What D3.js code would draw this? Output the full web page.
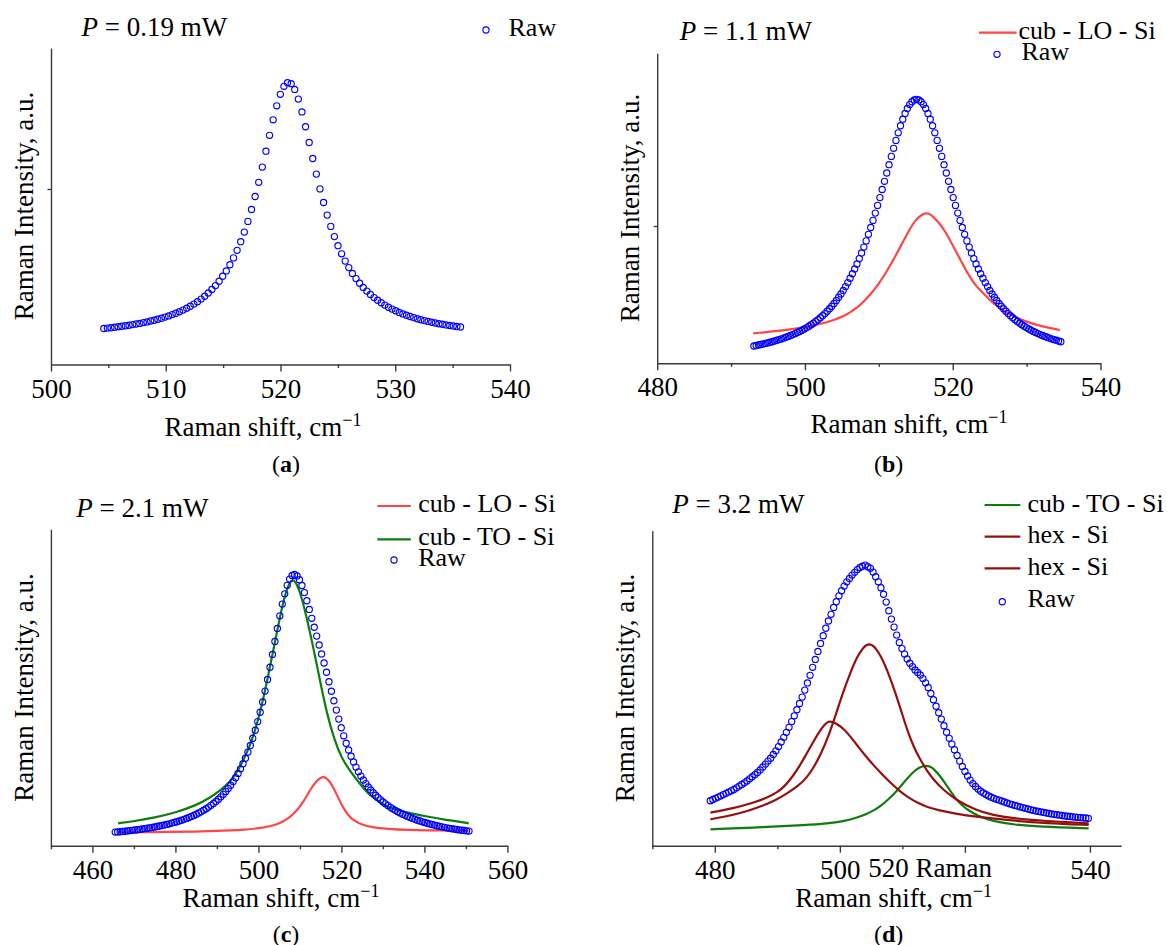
<!DOCTYPE html>
<html>
<head>
<meta charset="utf-8">
<script src="https://cdn.jsdelivr.net/npm/d3@7/dist/d3.min.js"></script>
<style>
  body { margin: 0; background: #fff; }
  text { font-family: "Liberation Serif", "Times New Roman", serif; fill: #000; }
</style>
</head>
<body>
<svg id="chart" width="1167" height="945"></svg>
<script>
// ---- data (intensities in arbitrary units) ----
var powers = ['0.19', '1.1', '2.1', '3.2'];
var tags = ['a', 'b', 'c', 'd'];

// raw spectra: first shift, sampling step, intensities
var rawA_start = 504.6, rawA_step = 0.314;
var rawA = [36.0, 36.4, 36.8, 37.3, 37.7, 38.2, 38.7, 39.3, 39.9, 40.5,
  41.1, 41.9, 42.6, 43.5, 44.3, 45.3, 46.3, 47.4, 48.6, 49.9,
  51.3, 52.8, 54.4, 56.3, 58.2, 60.4, 62.8, 65.4, 68.2, 71.5,
  75.0, 78.9, 83.3, 88.2, 93.6, 99.7, 106.6, 114.2, 122.8, 132.4,
  143.1, 155.0, 168.0, 182.2, 197.4, 213.3, 229.2, 244.7, 258.7, 270.2,
  278.2, 281.8, 280.8, 275.1, 265.4, 252.6, 237.8, 222.0, 206.0, 190.4,
  175.6, 162.0, 149.4, 138.1, 127.9, 118.8, 110.7, 103.4, 96.9, 91.1,
  85.9, 81.3, 77.1, 73.4, 70.0, 66.9, 64.2, 61.7, 59.4, 57.3,
  55.4, 53.7, 52.1, 50.6, 49.3, 48.0, 46.9, 45.8, 44.8, 43.9,
  43.1, 42.3, 41.5, 40.8, 40.2, 39.6, 39.0, 38.5, 38.0, 37.5];

var rawB_start = 493.09, rawB_step = 0.31;
var rawB = [17.3, 17.8, 18.3, 18.8, 19.3, 19.9, 20.4, 21.0, 21.6, 22.3,
  23.0, 23.7, 24.4, 25.2, 26.0, 26.9, 27.8, 28.7, 29.7, 30.8,
  31.9, 33.1, 34.3, 35.7, 37.1, 38.6, 40.1, 41.8, 43.6, 45.5,
  47.6, 49.7, 52.0, 54.5, 57.1, 59.9, 62.8, 66.0, 69.3, 72.9,
  76.7, 80.7, 85.0, 89.5, 94.3, 99.3, 104.7, 110.3, 116.2, 122.4,
  129.0, 135.8, 142.9, 150.2, 157.9, 165.7, 173.8, 182.0, 190.3, 198.6,
  206.9, 215.0, 222.9, 230.5, 237.6, 244.1, 249.9, 254.8, 258.7, 261.6,
  263.4, 264.0, 263.4, 261.6, 258.7, 254.8, 249.9, 244.1, 237.6, 230.5,
  222.9, 215.0, 206.9, 198.6, 190.3, 182.0, 173.8, 165.7, 157.9, 150.2,
  142.9, 135.8, 129.0, 122.4, 116.2, 110.3, 104.7, 99.3, 94.3, 89.5,
  85.0, 80.7, 76.7, 72.9, 69.3, 66.0, 62.8, 59.9, 57.1, 54.5,
  52.0, 49.7, 47.6, 45.5, 43.6, 41.8, 40.1, 38.6, 37.1, 35.7,
  34.3, 33.1, 31.9, 30.8, 29.7, 28.7, 27.8, 26.9, 26.0, 25.2,
  24.4, 23.7, 23.0, 22.3, 21.6];

var rawC_start = 465.5, rawC_step = 0.592;
var rawC = [13.6, 13.8, 14.0, 14.3, 14.5, 14.8, 15.1, 15.4, 15.7, 16.0,
  16.3, 16.7, 17.1, 17.5, 17.9, 18.3, 18.7, 19.2, 19.7, 20.2,
  20.8, 21.3, 21.9, 22.6, 23.3, 24.0, 24.7, 25.5, 26.4, 27.3,
  28.2, 29.3, 30.3, 31.5, 32.7, 34.1, 35.5, 37.0, 38.6, 40.4,
  42.3, 44.3, 46.5, 48.9, 51.4, 54.2, 57.2, 60.5, 64.1, 68.0,
  72.3, 76.9, 82.0, 87.5, 93.6, 100.3, 107.5, 115.5, 124.1, 133.5,
  143.7, 154.6, 166.3, 178.5, 191.3, 204.3, 217.3, 229.9, 241.6, 251.9,
  260.4, 266.6, 270.3, 271.3, 269.8, 266.0, 260.2, 253.1, 245.0, 236.3,
  227.4, 218.5, 209.6, 200.7, 191.8, 182.7, 173.5, 164.0, 154.5, 145.0,
  135.6, 126.6, 118.0, 109.9, 102.5, 95.7, 89.5, 83.7, 78.6, 73.9,
  69.6, 65.7, 62.1, 58.8, 55.8, 53.0, 50.5, 48.1, 45.9, 43.8,
  41.9, 40.1, 38.4, 36.9, 35.4, 34.0, 32.7, 31.5, 30.4, 29.3,
  28.3, 27.3, 26.4, 25.5, 24.7, 23.9, 23.2, 22.5, 21.8, 21.2,
  20.6, 20.0, 19.4, 18.9, 18.4, 17.9, 17.4, 17.0, 16.6, 16.2,
  15.8, 15.5, 15.2, 14.9, 14.6];

var rawD_start = 479.27, rawD_step = 0.42;
var rawD = [45.0, 46.2, 47.4, 48.6, 49.9, 51.1, 52.4, 53.6, 54.9, 56.2,
  57.9, 59.6, 61.2, 62.9, 64.8, 66.9, 69.0, 71.1, 73.2, 75.8,
  78.7, 81.6, 84.6, 87.5, 91.2, 94.9, 99.1, 103.7, 108.4, 113.4,
  118.4, 124.1, 129.9, 136.0, 142.3, 148.6, 155.6, 162.8, 170.4, 178.4,
  186.3, 194.3, 202.3, 210.0, 217.5, 224.7, 231.4, 238.2, 244.0, 249.9,
  255.0, 259.6, 263.9, 267.2, 270.6, 273.4, 276.1, 278.2, 279.5, 280.6,
  279.0, 277.4, 273.6, 269.0, 263.9, 258.0, 251.5, 243.6, 235.0, 226.6,
  218.6, 210.6, 203.2, 197.1, 191.6, 186.8, 182.5, 179.1, 175.8, 173.3,
  170.8, 167.1, 162.9, 158.2, 152.3, 146.0, 139.5, 133.0, 126.6, 120.0,
  113.5, 107.4, 101.6, 96.0, 90.3, 84.6, 79.3, 74.3, 69.8, 65.6,
  62.1, 59.2, 56.6, 54.5, 52.7, 51.2, 49.7, 48.5, 47.4, 46.4,
  45.6, 44.7, 43.8, 42.8, 41.9, 41.1, 40.3, 39.6, 38.8, 38.1,
  37.4, 36.7, 36.0, 35.4, 34.8, 34.3, 33.8, 33.3, 32.8, 32.3,
  31.8, 31.4, 31.0, 30.6, 30.2, 29.8, 29.5, 29.2, 28.9, 28.6,
  28.4, 28.1, 27.9, 27.7, 27.4];

// fitted components
var loB_x = [493, 498.1, 502.7, 504, 505.2, 506, 507.3, 508, 509, 510, 511, 512, 513, 514, 515, 516.2, 517, 518, 519, 520, 521, 522, 523, 524, 525, 526, 527, 528, 529.7, 532, 534.5];
var loB_y = [30, 33.3, 40.2, 43.5, 47, 50.5, 57, 62, 70, 79.5, 91, 104, 117.5, 132, 144, 151, 149.5, 142, 132, 118, 104, 90, 78.5, 71, 63.5, 57, 52, 48, 42, 37, 33.3];

var loC_x = [466.2, 475, 485, 492, 497, 500, 503, 505.5, 507.5, 509.5, 511, 512.5, 514, 515.6, 517.2, 518.7, 520.1, 521.5, 523, 525, 527.3, 531, 536, 543, 550.7];
var loC_y = [13.4, 13.6, 14, 15, 16, 17.4, 19.5, 23, 28, 36, 45, 56, 65, 70.5, 65, 53, 40, 31, 25, 21, 18.4, 16.8, 15.7, 15.2, 15];
var toC_x = [466.2, 470, 475, 480, 485, 488, 491, 493, 495, 498, 500, 502, 504, 506, 507, 508, 509, 510, 511.2, 513, 514.8, 516.5, 518.3, 520, 522, 525.5, 528, 531.7, 536, 540.7, 545, 550.7];
var toC_y = [22.4, 24.5, 28, 33, 40.5, 47, 56, 63, 74, 99, 126, 162, 204, 245, 258, 267, 264, 254, 236, 203, 166, 132, 106, 88, 75, 56, 46, 37.5, 33, 29, 26, 22.4];

var toD_x = [479.3, 488, 494.6, 498, 500.6, 502.5, 504.2, 505.5, 506.6, 507.8, 509, 510, 510.8, 511.7, 512.6, 513.7, 514.5, 515.05, 516, 516.9, 517.8, 518.7, 519.6, 520.5, 522, 523.5, 525.5, 527.7, 532, 539.8];
var toD_y = [16.4, 18.5, 20.7, 22.3, 24.5, 27.5, 31.5, 35.5, 40, 46.5, 54, 61.5, 67.5, 73.5, 78, 80.5, 79, 76.5, 70, 62, 53.5, 45.7, 40, 35.7, 30, 26.5, 23.5, 21.2, 19, 17.4];
var hex1D_x = [479.3, 483, 486, 488.6, 490, 491, 492.2, 493.4, 494.6, 495.8, 496.8, 497.6, 498.2, 498.8, 499.6, 500.5, 501.8, 503, 504.2, 505.4, 506.6, 508, 509.6, 511, 512.6, 514, 515.6, 518.5, 521.7, 527.7, 533, 539.8];
var hex1D_y = [33, 37.5, 42.5, 48.5, 53.5, 58.5, 67, 78, 91, 104.5, 115, 121.5, 124.5, 124, 121.5, 117.5, 108.5, 98.5, 89, 80.5, 72.4, 63.5, 54.5, 48, 42.4, 38.5, 35.7, 32, 29, 25, 22.5, 20.7];
var hex2D_x = [479.3, 482, 485, 487.5, 489.8, 491.5, 493.4, 494.7, 495.8, 497, 498.2, 499.4, 500.6, 501.8, 502.8, 503.8, 504.7, 505.6, 506.6, 507.8, 509, 510, 510.8, 511.8, 512.6, 514, 515.05, 516.5, 518.6, 521.7, 524.5, 527.7, 532, 539.8];
var hex2D_y = [26.4, 29.5, 34, 39.5, 45.7, 52, 60, 68, 78, 92, 110, 132, 155, 175, 189.5, 199, 202.5, 199, 189.5, 172, 151, 131, 115, 99, 89, 74, 65.7, 56, 45.7, 35.7, 30.5, 27.4, 25, 22.4];

// axis ticks
var ticksA = [500, 510, 520, 530, 540], minorA = [505, 515, 525, 535];
var ticksB = [480, 500, 520, 540], minorB = [490, 510, 530];
var ticksC = [460, 480, 500, 520, 540, 560], minorC = [450, 470, 490, 510, 530, 550];
var ticksD = [480, 500, 520, 540], minorD = [470, 490, 510, 530], labelsD = [480, 500, 540];

// ---- colours ----
var cRaw = '#0000ff', cLO = '#ff4545', cTO = '#0d7d0d', cHex = '#950f0f';
var SERIF = '"Liberation Serif", "Times New Roman", serif';
var FS = 27, FS_LEG = 26;

// ---- layout of the four panels ----
var panels = [
  { tag: tags[0], power: powers[0], xDom: [500, 540], left: 51, right: 510, top: 48, base: 364.5, yMax: 316.5,
    major: ticksA, minor: minorA, labels: ticksA, yTicks: [175.5],
    raw: rawA, rawStart: rawA_start, rawStep: rawA_step, lines: [],
    title: [81.5, 36], yTitle: [33, 206], xTitle: [263, 435.5], tagPos: [286, 472],
    legend: [{ type: 'dot', label: 'Raw', x: 486, y: 30, tx: 508.5, ty: 35.5 }] },
  { tag: tags[1], power: powers[1], xDom: [480, 540], left: 657.2, right: 1100.5, top: 53.3, base: 363.3, yMax: 310,
    major: ticksB, minor: minorB, labels: ticksB, yTicks: [137.3],
    raw: rawB, rawStart: rawB_start, rawStep: rawB_step,
    lines: [{ xs: loB_x, ys: loB_y, color: cLO }],
    title: [679.7, 40], yTitle: [638.5, 208], xTitle: [909, 433], tagPos: [888.6, 472],
    legend: [{ type: 'line', color: cLO, label: 'cub - LO - Si', x: 979, x2: 1016.6, y: 32.7, tx: 1018.5, ty: 39 },
             { type: 'dot', label: 'Raw', x: 997, y: 54.3, tx: 1021.5, ty: 60 }] },
  { tag: tags[2], power: powers[2], xDom: [450, 560], left: 50.9, right: 507.4, top: 529.3, base: 845.7, yMax: 316.4,
    major: ticksC, minor: minorC, labels: ticksC, yTicks: [],
    raw: rawC, rawStart: rawC_start, rawStep: rawC_step,
    lines: [{ xs: toC_x, ys: toC_y, color: cTO }, { xs: loC_x, ys: loC_y, color: cLO }],
    title: [76.2, 516.7], yTitle: [33, 687.5], xTitle: [281, 906.5], tagPos: [286, 941.5],
    legend: [{ type: 'line', color: cLO, label: 'cub - LO - Si', x: 377.3, x2: 410.8, y: 506, tx: 418.2, ty: 512.3 },
             { type: 'line', color: cTO, label: 'cub - TO - Si', x: 377.3, x2: 410.8, y: 539.3, tx: 418.2, ty: 544.5 },
             { type: 'dot', label: 'Raw', x: 394, y: 560, tx: 418.2, ty: 566 }] },
  { tag: tags[3], power: powers[3], xDom: [470, 545], left: 652.3, right: 1121.2, top: 530.7, base: 845.7, yMax: 315,
    major: ticksD, minor: minorD, labels: labelsD, yTicks: [],
    raw: rawD, rawStart: rawD_start, rawStep: rawD_step,
    lines: [{ xs: toD_x, ys: toD_y, color: cTO }, { xs: hex1D_x, ys: hex1D_y, color: cHex }, { xs: hex2D_x, ys: hex2D_y, color: cHex }],
    title: [672.2, 513.3], yTitle: [633.6, 688], xTitle: null, tagPos: [888.6, 941.5],
    legend: [{ type: 'line', color: cTO, label: 'cub - TO - Si', x: 984.6, x2: 1020.3, y: 505, tx: 1027.4, ty: 511.7 },
             { type: 'line', color: cHex, label: 'hex - Si', x: 984.6, x2: 1020.3, y: 536.7, tx: 1027.4, ty: 543.3 },
             { type: 'line', color: cHex, label: 'hex - Si', x: 984.6, x2: 1020.3, y: 568.3, tx: 1027.4, ty: 575 },
             { type: 'dot', label: 'Raw', x: 1002.3, y: 601.7, tx: 1027.4, ty: 607 }] }
];

var svg = d3.select('#chart');

function shiftTitle(sel) {
  sel.append('tspan').text('Raman shift, cm');
  sel.append('tspan').attr('dy', -10).style('font-size', '18px').text('\u22121');
}

function drawPanel(p) {
  var x = d3.scaleLinear().domain(p.xDom).range([p.left, p.right]);
  var y = d3.scaleLinear().domain([0, p.yMax]).range([p.base, p.top]);
  var g = svg.append('g');

  // axes
  var ax = g.append('g').attr('transform', 'translate(0,' + p.base + ')')
    .call(d3.axisBottom(x).tickValues(p.major).tickSize(7).tickPadding(7).tickSizeOuter(0)
      .tickFormat(function(d) { return p.labels.indexOf(d) >= 0 ? d : ''; }));
  var axm = g.append('g').attr('transform', 'translate(0,' + p.base + ')')
    .call(d3.axisBottom(x).tickValues(p.minor).tickSize(3.5).tickFormat(''));
  axm.select('.domain').remove();
  g.append('g').attr('transform', 'translate(' + p.left + ',0)')
    .call(d3.axisLeft(y).tickValues(p.yTicks).tickSize(3.5).tickFormat('').tickSizeOuter(0));
  g.selectAll('.domain, .tick line').attr('stroke', '#3a3a3a').attr('stroke-width', 1.4);
  ax.selectAll('text').attr('font-family', SERIF).attr('font-size', FS).attr('fill', '#000');

  // fitted components, drawn under the raw points
  var line = d3.line().x(function(d) { return x(d[0]); }).y(function(d) { return y(d[1]); })
    .curve(d3.curveBasis);
  p.lines.forEach(function(l) {
    g.append('path').datum(d3.zip(l.xs, l.ys))
      .attr('fill', 'none').attr('stroke', l.color).attr('stroke-width', 2.2).attr('d', line);
  });

  // raw points
  var pts = p.raw.map(function(v, i) { return [p.rawStart + i * p.rawStep, v]; });
  g.append('g').selectAll('circle').data(pts).join('circle')
    .attr('cx', function(d) { return x(d[0]); })
    .attr('cy', function(d) { return y(d[1]); })
    .attr('r', 3.1).attr('fill', 'none').attr('stroke', cRaw).attr('stroke-width', 1.15);

  // power title
  var t = g.append('text').attr('x', p.title[0]).attr('y', p.title[1]).style('font-size', FS + 'px');
  t.append('tspan').style('font-style', 'italic').text('P');
  t.append('tspan').text(' = ' + p.power + ' mW');

  // axis titles
  g.append('text').attr('transform', 'translate(' + p.yTitle[0] + ',' + p.yTitle[1] + ') rotate(-90)')
    .attr('text-anchor', 'middle').style('font-size', FS + 'px').text('Raman Intensity, a.u.');
  if (p.xTitle) {
    g.append('text').attr('x', p.xTitle[0]).attr('y', p.xTitle[1]).attr('text-anchor', 'middle')
      .style('font-size', FS + 'px').call(shiftTitle);
  } else {
    // the wrapped title of panel (d)
    g.append('text').attr('x', 992).attr('y', 876.7).attr('text-anchor', 'end')
      .style('font-size', FS + 'px').text('520 Raman');
    g.append('text').attr('x', 992).attr('y', 906.7).attr('text-anchor', 'end')
      .style('font-size', FS + 'px').call(shiftTitle);
  }

  // panel tag
  var tg = g.append('text').attr('x', p.tagPos[0]).attr('y', p.tagPos[1]).attr('text-anchor', 'middle')
    .style('font-size', '24px');
  tg.append('tspan').text('(');
  tg.append('tspan').style('font-weight', 'bold').text(p.tag);
  tg.append('tspan').text(')');

  // legend
  p.legend.forEach(function(e) {
    if (e.type === 'line') {
      g.append('line').attr('x1', e.x).attr('x2', e.x2).attr('y1', e.y).attr('y2', e.y)
        .attr('stroke', e.color).attr('stroke-width', 2.2);
    } else {
      g.append('circle').attr('cx', e.x).attr('cy', e.y).attr('r', 3.1)
        .attr('fill', 'none').attr('stroke', cRaw).attr('stroke-width', 1.15);
    }
    g.append('text').attr('x', e.tx).attr('y', e.ty).style('font-size', FS_LEG + 'px').text(e.label);
  });
}

panels.forEach(drawPanel);
</script>
</body>
</html>
